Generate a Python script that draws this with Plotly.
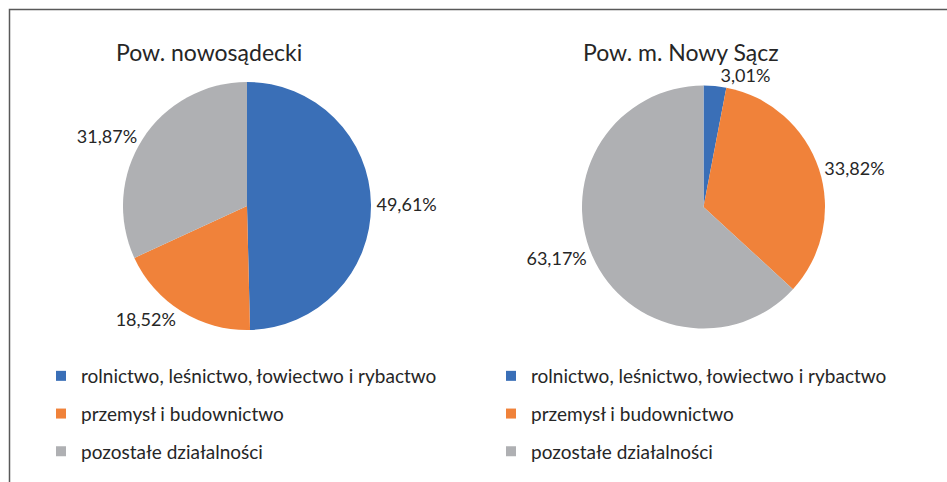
import plotly.graph_objects as go

W, H = 947, 482

categories = ["rolnictwo, leśnictwo, łowiectwo i rybactwo",
              "przemysł i budownictwo",
              "pozostałe działalności"]
colors = ["#3A6FB7", "#F0823A", "#AFB0B3"]

titles = ["Pow. nowosądecki", "Pow. m. Nowy Sącz"]
values_nowosadecki = [49.61, 18.52, 31.87]
values_nowy_sacz = [3.01, 33.82, 63.17]

FONT = "Lato"
TXT = "#262626"

def px_x(p):
    return p / W

def px_y(p):
    return 1 - p / H

fig = go.Figure()

pies = [
    (values_nowosadecki, (123, 371), (82, 330)),
    (values_nowy_sacz, (582, 825), (85.5, 328.5)),
]
for vals, (x0, x1), (y0, y1) in pies:
    fig.add_trace(go.Pie(
        labels=categories, values=vals, sort=False, direction="clockwise",
        rotation=0, marker=dict(colors=colors, line=dict(width=0)),
        textposition="outside", texttemplate="%{percent:.2%}",
        textfont=dict(family=FONT, size=18, color=TXT),
        domain=dict(x=[px_x(x0), px_x(x1)], y=[px_y(y1), px_y(y0)]),
        showlegend=False, hoverinfo="label+percent",
    ))

# legend entries (one group each so spacing can be matched)
for leg in ["legend", "legend2"]:
    for cat, col in zip(categories, colors):
        fig.add_trace(go.Scatter(
            x=[None], y=[None], mode="markers", name=cat,
            marker=dict(symbol="square", size=10, color=col),
            legendgroup=leg + cat, legend=leg, showlegend=True,
        ))

legend_common = dict(
    font=dict(family=FONT, size=19, color=TXT),
    tracegroupgap=10, bgcolor="rgba(0,0,0,0)",
    xanchor="left", yanchor="top", orientation="v",
)

fig.update_layout(
    width=W, height=H,
    margin=dict(l=0, r=0, t=0, b=0),
    paper_bgcolor="white", plot_bgcolor="white",
    separators=", ",
    xaxis=dict(visible=False), yaxis=dict(visible=False),
    legend=dict(x=px_x(41), y=px_y(357), **legend_common),
    legend2=dict(x=px_x(491), y=px_y(357), **legend_common),
    annotations=[
        dict(text=titles[0], x=px_x(208.5), y=px_y(52), xref="paper", yref="paper",
             xanchor="center", yanchor="middle",
             showarrow=False, font=dict(family=FONT, size=23, color=TXT)),
        dict(text=titles[1], x=px_x(681), y=px_y(52), xref="paper", yref="paper",
             xanchor="center", yanchor="middle",
             showarrow=False, font=dict(family=FONT, size=23, color=TXT)),
    ],
    shapes=[
        dict(type="rect", xref="paper", yref="paper",
             x0=px_x(9.5), x1=px_x(960), y0=px_y(500), y1=px_y(9.5),
             line=dict(color="#595959", width=1.5), fillcolor="rgba(0,0,0,0)"),
    ],
)

fig.write_html("out.html",
               config={"displayModeBar": False},
               post_script="document.body.style.margin='0';document.body.style.overflow='hidden';")
